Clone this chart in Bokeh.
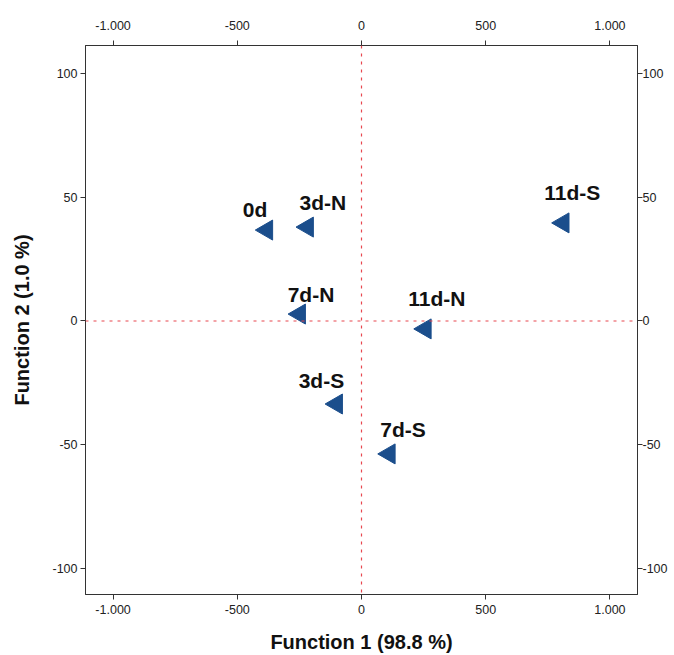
import math
from bokeh.plotting import figure
from bokeh.models import (LinearAxis, FixedTicker, CustomJSTickFormatter, Span,
                          Range1d, ColumnDataSource)
from bokeh.embed import file_html
from bokeh.resources import INLINE
from bokeh.core.properties import value

# ---- data ----
groups = ["0d", "3d-N", "7d-N", "3d-S", "7d-S", "11d-N", "11d-S"]
function1 = [-381, -217, -249, -100, 112, 257, 812]
function2 = [36.8, 38.0, 2.8, -33.6, -53.8, -3.2, 39.7]
x_ticks = [-1000, -500, 0, 500, 1000]
y_ticks = [-100, -50, 0, 50, 100]
x_title = "Function 1 (98.8 %)"
y_title = "Function 2 (1.0 %)"

# label placement offsets (screen px), styling only
label_dx = [-24, -8, -12, -38, -9, -17, -19]
label_dy = [-21, -25, -20, -24, -24, -30, -30]

src = ColumnDataSource(dict(x=function1, y=function2, label=groups,
                            dx=label_dx, dy=label_dy))

p = figure(frame_width=552, frame_height=549,
           x_range=Range1d(-1111, 1111), y_range=Range1d(-110.7, 111.5),
           output_backend="svg", toolbar_location=None,
           min_border_left=85, min_border_right=5, min_border_top=45,
           min_border_bottom=5, background_fill_color="white",
           border_fill_color="white")
p.xgrid.visible = False
p.ygrid.visible = False
p.outline_line_color = "#333333"
p.outline_line_width = 1

top_ax = LinearAxis()
right_ax = LinearAxis()
p.add_layout(top_ax, "above")
p.add_layout(right_ax, "right")
bottom_ax = p.below[0]
left_ax = p.left[0]

fmt_code = r"return Math.round(tick).toString().replace(/\B(?=(\d{3})+(?!\d))/g, '.');"

for ax in (bottom_ax, top_ax):
    ax.ticker = FixedTicker(ticks=x_ticks)
for ax in (left_ax, right_ax):
    ax.ticker = FixedTicker(ticks=y_ticks)

for ax in (bottom_ax, top_ax, left_ax, right_ax):
    ax.formatter = CustomJSTickFormatter(code=fmt_code)
    ax.minor_tick_line_color = None
    ax.major_tick_in = 0
    ax.major_tick_out = 5
    ax.major_tick_line_color = "#333333"
    ax.axis_line_color = "#333333"
    ax.major_label_text_font = "Liberation Sans"
    ax.major_label_text_font_size = "12.5px"
    ax.major_label_text_color = "#222222"
    ax.axis_label_text_font = "Liberation Sans"
    ax.axis_label_text_font_style = "bold"
    ax.axis_label_text_font_size = "20px"
    ax.axis_label_text_color = "#111111"

bottom_ax.axis_label = x_title
bottom_ax.major_label_standoff = 5
bottom_ax.axis_label_standoff = 14
left_ax.axis_label = y_title
left_ax.major_label_standoff = 3
left_ax.axis_label_standoff = 16
top_ax.major_label_standoff = 11
right_ax.major_label_standoff = 0

for dim in ("height", "width"):
    p.add_layout(Span(location=0, dimension=dim, line_color="#e8474f",
                      line_dash="3 5", line_width=1.2))

p.scatter(x="x", y="y", source=src, marker="triangle", size=20,
          angle=math.pi / 2, fill_color="#1b4e8c", line_color="#1b4e8c")

p.text(x="x", y="y", text="label", x_offset="dx", y_offset="dy", source=src,
       text_font=value("Liberation Sans"), text_font_style="bold",
       text_font_size="21px", text_align="left", text_baseline="alphabetic",
       text_color="#111111")

open("out.html", "w").write(file_html(p, INLINE))
